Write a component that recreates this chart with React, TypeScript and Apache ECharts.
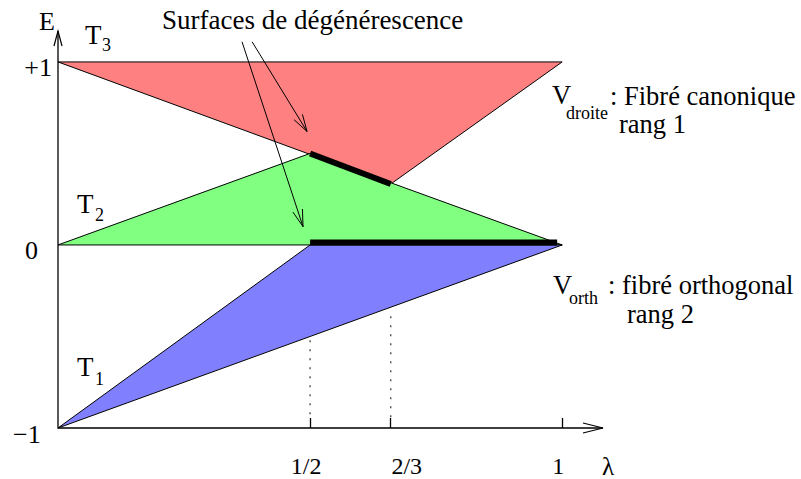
import React, { useEffect, useRef } from "react";
import * as echarts from "echarts";

// ---- data (λ, E) ----
const redTriangle = [[0, 1], [1, 1], [0.66, 0.333]];
const greenTriangle = [[0, 0], [0.5, 0.5], [1, 0]];
const blueTriangle = [[0, -1], [0.5, 0], [1, 0]];
const degenerateSegments = [
  [[0.5, 0.5], [0.66, 0.333]],
  [[0.5, 0.014], [0.99, 0.014]],
];
// [λ, E top, E bottom]
const dottedGuides = [
  [0.5, -0.52, -0.95],
  [0.66, -0.39, -0.95],
];
const annotationArrows = [
  [[0.365, 1.11], [0.486, 0.1]],
  [[0.385, 1.11], [0.494, 0.62]],
];
const xTickValues = [0.5, 0.66, 1];
const xTickLabels = ["1/2", "2/3", "1"];
const yTickLabels = ["+1", "0", "\u22121"];

const X_MIN = 0;
const X_MAX = 1.081;
const Y_MIN = -1;
const Y_MAX = 1.169;

const FAMILY = "Liberation Serif, DejaVu Serif, serif";

const GL = 58, GR = 198, GT = 31, GB = 51;
const W = 801;
const GW = W - GL - GR;
const px = (l: number) => GL + ((l - X_MIN) / (X_MAX - X_MIN)) * GW;

function txt(text: string, x: number, y: number, size: number, align = "left") {
  return {
    type: "text",
    x,
    y,
    silent: true,
    style: {
      text,
      font: `${size}px ${FAMILY}`,
      fontSize: size,
      fontFamily: FAMILY,
      lineHeight: Math.round(size * 0.8),
      fill: "#000",
      align,
      verticalAlign: "middle",
    },
  };
}

export default function App() {
  const ref = useRef<HTMLDivElement>(null);
  useEffect(() => {
    const chart = echarts.init(ref.current!, null, { renderer: "svg" });

    const renderItem = (_params: any, api: any) => {
      const c = (p: number[]) => api.coord(p);
      const children: any[] = [];
      const poly = (pts: number[][], fill: string) => ({
        type: "polygon",
        shape: { points: pts.map(c) },
        style: { fill, stroke: "#000", lineWidth: 1, lineJoin: "miter" },
      });
      children.push(poly(redTriangle, "#FF8080"));
      children.push(poly(greenTriangle, "#80FF80"));
      children.push(poly(blueTriangle, "#8080FF"));
      degenerateSegments.forEach(([a, b]) => {
        const p1 = c(a), p2 = c(b);
        children.push({
          type: "line",
          shape: { x1: p1[0], y1: p1[1], x2: p2[0], y2: p2[1] },
          style: { stroke: "#000", lineWidth: 6, lineCap: "butt" },
        });
      });
      dottedGuides.forEach(([l, e1, e2]) => {
        const p1 = c([l, e1]), p2 = c([l, e2]);
        children.push({
          type: "line",
          shape: { x1: p1[0], y1: p1[1], x2: p2[0], y2: p2[1] },
          style: { stroke: "#444", lineWidth: 1.3, lineDash: [2, 7] },
        });
      });
      annotationArrows.forEach(([a, b]) => {
        const p1 = c(a), p2 = c(b);
        const dx = p2[0] - p1[0], dy = p2[1] - p1[1];
        const len = Math.hypot(dx, dy);
        const ux = dx / len, uy = dy / len;
        const nx = -uy, ny = ux;
        children.push({
          type: "line",
          shape: { x1: p1[0], y1: p1[1], x2: p2[0], y2: p2[1] },
          style: { stroke: "#000", lineWidth: 1 },
        });
        children.push({
          type: "polyline",
          shape: {
            points: [
              [p2[0] - 17 * ux + 5 * nx, p2[1] - 17 * uy + 5 * ny],
              p2,
              [p2[0] - 17 * ux - 5 * nx, p2[1] - 17 * uy - 5 * ny],
            ],
          },
          style: { stroke: "#000", lineWidth: 1, fill: "none" },
        });
      });
      // axes
      const o = c([X_MIN, Y_MIN]);
      const xt = c([X_MAX, Y_MIN]);
      const yt = c([X_MIN, Y_MAX]);
      children.push({
        type: "polyline",
        shape: { points: [xt, o, yt] },
        style: { stroke: "#000", lineWidth: 1.3, fill: "none" },
      });
      children.push({
        type: "polyline",
        shape: { points: [[xt[0] - 20, xt[1] - 5], xt, [xt[0] - 20, xt[1] + 5]] },
        style: { stroke: "#000", lineWidth: 1.2, fill: "none" },
      });
      children.push({
        type: "polyline",
        shape: { points: [[yt[0] - 4, yt[1] + 15], yt, [yt[0] + 4, yt[1] + 15]] },
        style: { stroke: "#000", lineWidth: 1.2, fill: "none" },
      });
      return { type: "group", children };
    };

    const tickLabelOffsets = [-4, 16, -4];

    chart.setOption({
      animation: false,
      textStyle: { fontFamily: FAMILY },
      grid: { left: GL, right: GR, top: GT, bottom: GB },
      xAxis: {
        type: "value",
        min: X_MIN,
        max: X_MAX,
        axisLine: { show: false, onZero: false },
        splitLine: { show: false },
        axisLabel: { show: false },
        axisTick: {
          show: true,
          inside: true,
          length: 10,
          customValues: xTickValues,
          lineStyle: { color: "#000", width: 1.3 },
        },
      },
      yAxis: {
        type: "value",
        min: Y_MIN,
        max: Y_MAX,
        axisLine: { show: false, onZero: false },
        splitLine: { show: false },
        axisLabel: { show: false },
        axisTick: { show: false },
      },
      series: [
        {
          type: "custom",
          silent: true,
          clip: false,
          renderItem,
          data: [[0, 0]],
        },
      ],
      graphic: [
        txt("E", 47, 21, 26, "center"),
        txt("Surfaces de dégénérescence", 162, 20, 27),
        txt("T", 85, 35, 27),
        txt("3", 102, 45, 18),
        txt("T", 77, 204, 27),
        txt("2", 95, 215, 18),
        txt("T", 77, 367, 27),
        txt("1", 95, 379, 18),
        txt(yTickLabels[0], 52, 67, 26, "right"),
        txt(yTickLabels[1], 25, 250, 26),
        txt(yTickLabels[2], 13, 434, 26),
        ...xTickValues.map((v, i) => txt(xTickLabels[i], px(v) + tickLabelOffsets[i], 466, 24, "center")),
        txt("λ", 608, 466, 25, "center"),
        txt("V", 552, 95, 26.5),
        txt("droite", 566, 113, 18),
        txt(": Fibré canonique", 610, 96, 26.5),
        txt("rang 1", 619, 124, 26.5),
        txt("V", 553, 285, 26.5),
        txt("orth", 569, 298, 18),
        txt(": fibré orthogonal", 608, 285, 26.5),
        txt("rang 2", 627, 314, 26.5),
      ],
    });
    return () => chart.dispose();
  }, []);
  return <div ref={ref} style={{ width: 801, height: 479, position: "absolute", left: 0, top: 0 }} />;
}
